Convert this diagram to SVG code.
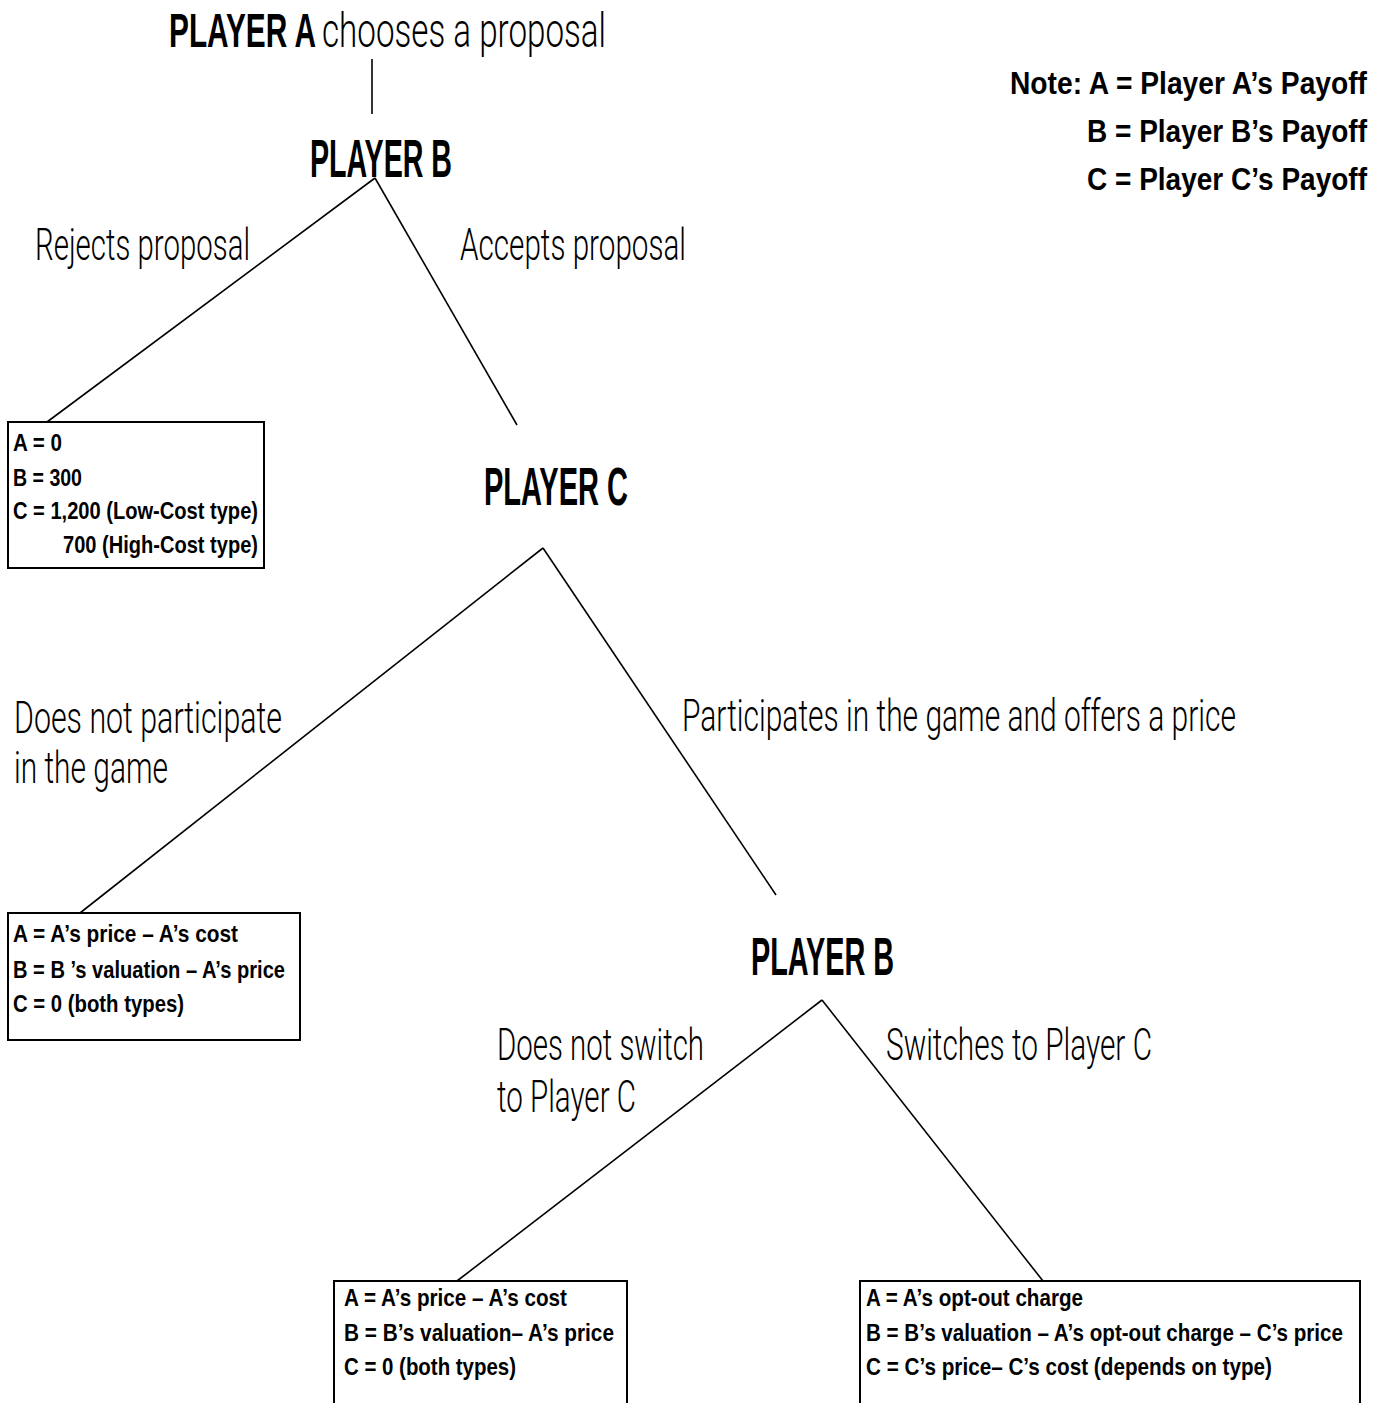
<svg xmlns="http://www.w3.org/2000/svg" width="1389" height="1403" viewBox="0 0 1389 1403">
<style>
.head{font-family:"Liberation Sans",Arial,sans-serif;font-weight:700;font-size:53px;fill:#000}
.lbl{font-family:Roboto,"Liberation Sans",sans-serif;font-weight:300;font-size:45px;fill:#000}
.pay{font-family:"Liberation Sans",Arial,sans-serif;font-weight:700;font-size:24.5px;fill:#000}
.note{font-family:"Liberation Sans",Arial,sans-serif;font-weight:700;font-size:32px;fill:#000}
.box{fill:#fff;stroke:#000;stroke-width:2}
.edge{stroke:#000;stroke-width:1.6;fill:none}
</style>
<rect width="1389" height="1403" fill="#fff"/>
<g id="connectors">
<line class="edge" x1="372" y1="59" x2="372" y2="114"/>
<line class="edge" x1="375" y1="178" x2="47" y2="422"/>
<line class="edge" x1="375" y1="178" x2="517" y2="425"/>
<line class="edge" x1="543" y1="548" x2="80" y2="913"/>
<line class="edge" x1="543" y1="548" x2="776" y2="895"/>
<line class="edge" x1="822" y1="1000" x2="457" y2="1281"/>
<line class="edge" x1="822" y1="1000" x2="1043" y2="1281"/>
</g>
<g id="edge-labels">
<text class="lbl" x="35" y="260" textLength="215" lengthAdjust="spacingAndGlyphs">Rejects proposal</text>
<text class="lbl" x="460" y="260" textLength="226" lengthAdjust="spacingAndGlyphs">Accepts proposal</text>
<text class="lbl" x="14" y="733" textLength="268" lengthAdjust="spacingAndGlyphs">Does not participate</text>
<text class="lbl" x="14" y="783" textLength="154" lengthAdjust="spacingAndGlyphs">in the game</text>
<text class="lbl" x="682" y="731" textLength="554" lengthAdjust="spacingAndGlyphs">Participates in the game and offers a price</text>
<text class="lbl" x="497" y="1060" textLength="207" lengthAdjust="spacingAndGlyphs">Does not switch</text>
<text class="lbl" x="497" y="1112" textLength="139" lengthAdjust="spacingAndGlyphs">to Player C</text>
<text class="lbl" x="886" y="1060" textLength="266" lengthAdjust="spacingAndGlyphs">Switches to Player C</text>
</g>
<g id="player-a">
<text y="47"><tspan class="head" x="169" style="font-size:48px" textLength="147" lengthAdjust="spacingAndGlyphs">PLAYER A</tspan><tspan class="lbl" x="322" style="font-size:48px" textLength="284" lengthAdjust="spacingAndGlyphs">chooses a proposal</tspan></text>
</g>
<g id="player-b1">
<text class="head" x="310" y="177" textLength="142" lengthAdjust="spacingAndGlyphs">PLAYER B</text>
</g>
<g id="player-c">
<text class="head" x="484" y="505" textLength="144" lengthAdjust="spacingAndGlyphs">PLAYER C</text>
</g>
<g id="player-b2">
<text class="head" x="751" y="975" textLength="143" lengthAdjust="spacingAndGlyphs">PLAYER B</text>
</g>
<g id="note">
<text class="note" x="1010" y="94" textLength="357" lengthAdjust="spacingAndGlyphs">Note: A = Player A’s Payoff</text>
<text class="note" x="1087" y="142" textLength="280" lengthAdjust="spacingAndGlyphs">B = Player B’s Payoff</text>
<text class="note" x="1087" y="190" textLength="280" lengthAdjust="spacingAndGlyphs">C = Player C’s Payoff</text>
</g>
<g id="payoff-reject">
<rect class="box" x="8" y="422" width="256" height="146"/>
<text class="pay" x="13" y="451" textLength="49" lengthAdjust="spacingAndGlyphs">A = 0</text>
<text class="pay" x="13" y="486" textLength="69" lengthAdjust="spacingAndGlyphs">B = 300</text>
<text class="pay" x="13" y="519" textLength="245" lengthAdjust="spacingAndGlyphs">C = 1,200 (Low-Cost type)</text>
<text class="pay" x="63" y="553" textLength="195" lengthAdjust="spacingAndGlyphs">700 (High-Cost type)</text>
</g>
<g id="payoff-noparticipate">
<rect class="box" x="8" y="913" width="292" height="127"/>
<text class="pay" x="13" y="942" textLength="225" lengthAdjust="spacingAndGlyphs">A = A’s price – A’s cost</text>
<text class="pay" x="13" y="978" textLength="272" lengthAdjust="spacingAndGlyphs">B = B ’s valuation – A’s price</text>
<text class="pay" x="13" y="1012" textLength="171" lengthAdjust="spacingAndGlyphs">C = 0 (both types)</text>
</g>
<g id="payoff-noswitch">
<rect class="box" x="334" y="1281" width="293" height="140"/>
<text class="pay" x="344" y="1306" textLength="223" lengthAdjust="spacingAndGlyphs">A = A’s price – A’s cost</text>
<text class="pay" x="344" y="1341" textLength="270" lengthAdjust="spacingAndGlyphs">B = B’s valuation– A’s price</text>
<text class="pay" x="344" y="1375" textLength="172" lengthAdjust="spacingAndGlyphs">C = 0 (both types)</text>
</g>
<g id="payoff-switch">
<rect class="box" x="860" y="1281" width="500" height="140"/>
<text class="pay" x="866" y="1306" textLength="217" lengthAdjust="spacingAndGlyphs">A = A’s opt-out charge</text>
<text class="pay" x="866" y="1341" textLength="477" lengthAdjust="spacingAndGlyphs">B = B’s valuation – A’s opt-out charge  – C’s price</text>
<text class="pay" x="866" y="1375" textLength="406" lengthAdjust="spacingAndGlyphs">C = C’s price– C’s cost (depends on type)</text>
</g>
</svg>
